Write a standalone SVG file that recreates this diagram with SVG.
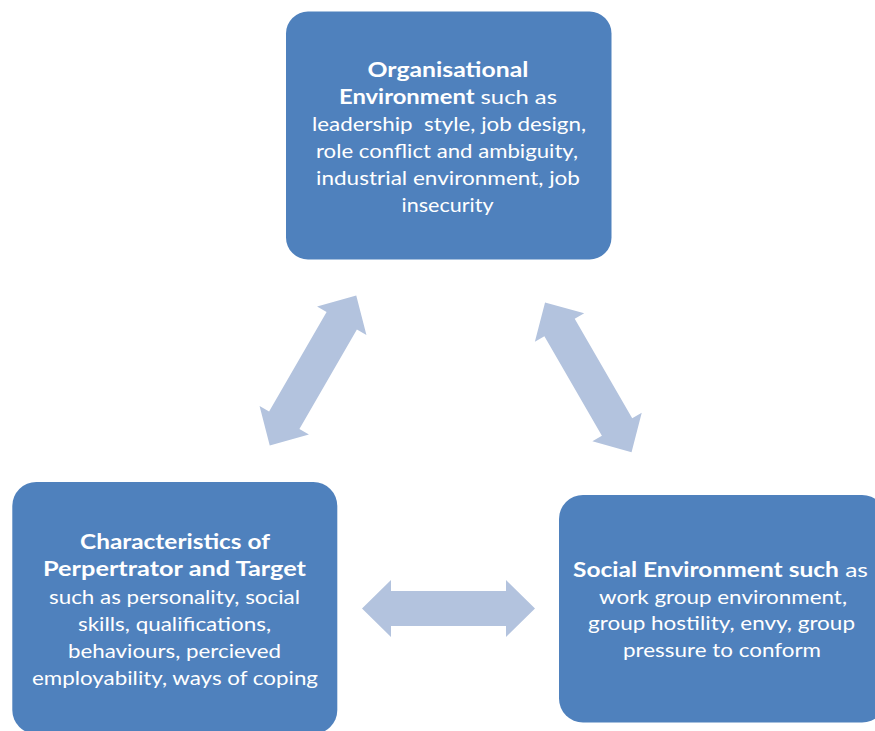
<svg xmlns="http://www.w3.org/2000/svg" width="875" height="731" viewBox="0 0 875 731">
  <style>
    .box { fill: #4F81BD; }
    .arrow { fill: #B3C3DE; }
    .lbl { font-family: Lato, "Open Sans", "Liberation Sans", sans-serif; font-size: 20px; fill: #FFFFFF; text-anchor: middle; }
    .b { font-weight: bold; }
  </style>
  <defs>
    <!-- double-headed block arrow, centred on the origin along the x axis -->
    <path id="dbl-arrow" d="M -86.5 0 L -57.5 -28.5 L -57.5 -17.5 L 57.5 -17.5 L 57.5 -28.5 L 86.5 0 L 57.5 28.5 L 57.5 17.5 L -57.5 17.5 L -57.5 28.5 Z"/>
  </defs>

  <g id="connectors">
    <use href="#dbl-arrow" class="arrow" transform="translate(313 370.5) rotate(-60)"/>
    <use href="#dbl-arrow" class="arrow" transform="translate(588.3 377.3) rotate(60)"/>
    <use href="#dbl-arrow" class="arrow" transform="translate(448.5 608.5)"/>
  </g>

  <g id="organisational">
    <rect class="box" x="286" y="11.5" width="325.5" height="248" rx="22"/>
    <text class="lbl b" x="448" y="76.5" textLength="161" lengthAdjust="spacingAndGlyphs">Organisational</text>
    <text class="lbl" x="448" y="103.5" textLength="218" lengthAdjust="spacingAndGlyphs"><tspan class="b">Environment</tspan> such as</text>
    <text class="lbl" x="449" y="130.5" textLength="274" lengthAdjust="spacingAndGlyphs" xml:space="preserve">leadership  style, job design,</text>
    <text class="lbl" x="447" y="157.5" textLength="262" lengthAdjust="spacingAndGlyphs">role conflict and ambiguity,</text>
    <text class="lbl" x="448" y="184.5" textLength="264" lengthAdjust="spacingAndGlyphs">industrial environment, job</text>
    <text class="lbl" x="447.5" y="211.5" textLength="92" lengthAdjust="spacingAndGlyphs">insecurity</text>
  </g>

  <g id="characteristics">
    <rect class="box" x="12.3" y="482" width="325" height="252" rx="24"/>
    <text class="lbl b" x="175" y="548.5" textLength="190" lengthAdjust="spacingAndGlyphs">Characteristics of</text>
    <text class="lbl b" x="174.5" y="576" textLength="263" lengthAdjust="spacingAndGlyphs">Perpertrator and Target</text>
    <text class="lbl" x="174.5" y="603.5" textLength="251" lengthAdjust="spacingAndGlyphs">such as personality, social</text>
    <text class="lbl" x="174.5" y="631" textLength="193" lengthAdjust="spacingAndGlyphs">skills, qualifications,</text>
    <text class="lbl" x="174.5" y="658" textLength="213" lengthAdjust="spacingAndGlyphs">behaviours, percieved</text>
    <text class="lbl" x="175" y="685" textLength="286" lengthAdjust="spacingAndGlyphs">employability, ways of coping</text>
  </g>

  <g id="social">
    <rect class="box" x="559" y="495" width="327" height="227.5" rx="24"/>
    <text class="lbl" x="720.5" y="577" textLength="295" lengthAdjust="spacingAndGlyphs"><tspan class="b">Social Environment such</tspan> as</text>
    <text class="lbl" x="723" y="603.5" textLength="248" lengthAdjust="spacingAndGlyphs">work group environment,</text>
    <text class="lbl" x="721.5" y="630" textLength="267" lengthAdjust="spacingAndGlyphs">group hostility, envy, group</text>
    <text class="lbl" x="722" y="656.5" textLength="198" lengthAdjust="spacingAndGlyphs">pressure to conform</text>
  </g>
</svg>
